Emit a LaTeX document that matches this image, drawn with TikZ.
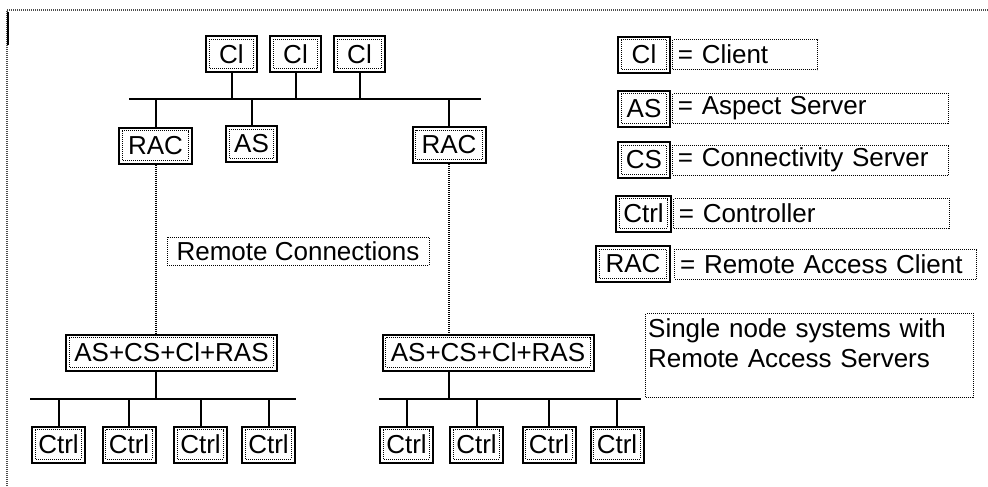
\documentclass[tikz,border=0pt]{standalone}
\usepackage{fontspec}
\setmainfont{Liberation Sans}
\usepackage{tikz}
\usetikzlibrary{positioning}
\newcommand{\unitfont}{\fontsize{19.5}{22.5}\selectfont}

\begin{document}
\begin{tikzpicture}[x=0.75pt, y=-0.75pt,
  dotbox/.style={draw=black, line width=0.75pt, dash pattern=on 0.75pt off 0.75pt},
  unit/.style={draw, line width=1.5pt, minimum height=27pt, inner sep=0pt, font=\unitfont, path picture={\draw[dotbox] ([shift={(2.6pt,-2.6pt)}]path picture bounding box.north west) rectangle ([shift={(-2.6pt,2.6pt)}]path picture bounding box.south east);}},
  desc/.style={dotbox, minimum height=22.5pt, inner xsep=4pt, inner ysep=0pt, align=left, font=\unitfont},
  bus/.style={line width=1.5pt},
  link/.style={draw=black, line width=1.5pt, dash pattern=on 0.75pt off 0.75pt},
  frame/.style={draw=black!70, line width=1.5pt, dash pattern=on 0.75pt off 0.75pt}]
\useasboundingbox (0,0) rectangle (988,486);
% outer frame
\draw[frame] (7,486) -- (7,10) -- (988,10);
\draw[line width=1.5pt] (8,12) -- (8,45);
% client level
\node[unit, minimum width=38.25pt] (cl1) at (231.5,54) {Cl};
\node[unit, minimum width=38.25pt] (cl2) at (295.5,54) {Cl};
\node[unit, minimum width=38.25pt] (cl3) at (359.5,54) {Cl};
\coordinate (busTopL) at (129,99); \coordinate (busTopR) at (481,99);
\node[unit, minimum width=54.75pt] (racA) at (155.5,145.5) {RAC};
\node[unit, minimum width=38.25pt] (asA) at (251.5,144) {AS};
\node[unit, minimum width=54.75pt] (racB) at (449,145) {RAC};
\draw[bus] (busTopL) -- (busTopR);
\draw[bus] (cl1.south) -- (cl1.south |- busTopL); \draw[bus] (cl2.south) -- (cl2.south |- busTopL); \draw[bus] (cl3.south) -- (cl3.south |- busTopL);
\draw[bus] (racA.north) -- (racA.north |- busTopL); \draw[bus] (asA.north) -- (asA.north |- busTopL); \draw[bus] (racB.north) -- (racB.north |- busTopL);
% remote connections
\node[dotbox, minimum width=196.5pt, minimum height=21pt, inner sep=0pt, font=\unitfont] (remote) at (298,251) {Remote Connections};
\node[unit, minimum width=158.25pt] (sysA) at (171.5,352.5) {AS+CS+Cl+RAS};
\node[unit, minimum width=158.25pt] (sysB) at (488,352.5) {AS+CS+Cl+RAS};
\draw[link] (racA.south) -- (racA.south |- sysA.north);
\draw[link] (racB.south) -- (racB.south |- sysB.north);
% controller level
\coordinate (busAL) at (30,399); \coordinate (busAR) at (296,399);
\coordinate (busBL) at (379,399); \coordinate (busBR) at (641,399);
\draw[bus] (busAL) -- (busAR); \draw[bus] (busBL) -- (busBR);
\draw[bus] (sysA.south -| racA) -- (racA |- busAL); \draw[bus] (sysB.south -| racB) -- (racB |- busBL);
\node[unit, minimum width=39.75pt] (ctrlA1) at (58.5,444.5) {Ctrl};
\node[unit, minimum width=39.75pt] (ctrlA2) at (129,444.5) {Ctrl};
\node[unit, minimum width=39.75pt] (ctrlA3) at (200.5,444.5) {Ctrl};
\node[unit, minimum width=39.75pt] (ctrlA4) at (268.5,444.5) {Ctrl};
\node[unit, minimum width=39.75pt] (ctrlB1) at (406.5,444.5) {Ctrl};
\node[unit, minimum width=39.75pt] (ctrlB2) at (476.5,444.5) {Ctrl};
\node[unit, minimum width=39.75pt] (ctrlB3) at (549,444.5) {Ctrl};
\node[unit, minimum width=39.75pt] (ctrlB4) at (617,444.5) {Ctrl};
\draw[bus] (ctrlA1.north) -- (ctrlA1.north |- busAL); \draw[bus] (ctrlA2.north) -- (ctrlA2.north |- busAL); \draw[bus] (ctrlA3.north) -- (ctrlA3.north |- busAL); \draw[bus] (ctrlA4.north) -- (ctrlA4.north |- busAL);
\draw[bus] (ctrlB1.north) -- (ctrlB1.north |- busBL); \draw[bus] (ctrlB2.north) -- (ctrlB2.north |- busBL); \draw[bus] (ctrlB3.north) -- (ctrlB3.north |- busBL); \draw[bus] (ctrlB4.north) -- (ctrlB4.north |- busBL);
% legend
\node[unit, minimum width=39pt] (keyCl) at (644,54.5) {Cl};
\node[unit, minimum width=39pt] (keyAS) at (644,108.5) {AS};
\node[unit, minimum width=39pt] (keyCS) at (644,160) {CS};
\node[unit, minimum width=41.25pt] (keyCtrl) at (643.5,213.5) {Ctrl};
\node[unit, minimum width=55.5pt] (keyRAC) at (633,264) {RAC};
\node[desc, text width=100.75pt, right=0.8pt of keyCl] (descCl) {= Client};
\node[desc, text width=199pt, right=0.8pt of keyAS] (descAS) {= Aspect Server};
\node[desc, text width=199pt, right=0.8pt of keyCS] (descCS) {= Connectivity Server};
\node[desc, text width=199pt, right=0.8pt of keyCtrl] (descCtrl) {= Controller};
\node[desc, text width=218.5pt, right=2.5pt of keyRAC] (descRAC) {= Remote Access Client};
\node[dotbox, anchor=north west, inner sep=2pt, text width=242pt, align=left, text height=16pt, text depth=43pt, font=\unitfont] (note) at (645,313) {Single node systems with\\Remote Access Servers};
\end{tikzpicture}
\end{document}
